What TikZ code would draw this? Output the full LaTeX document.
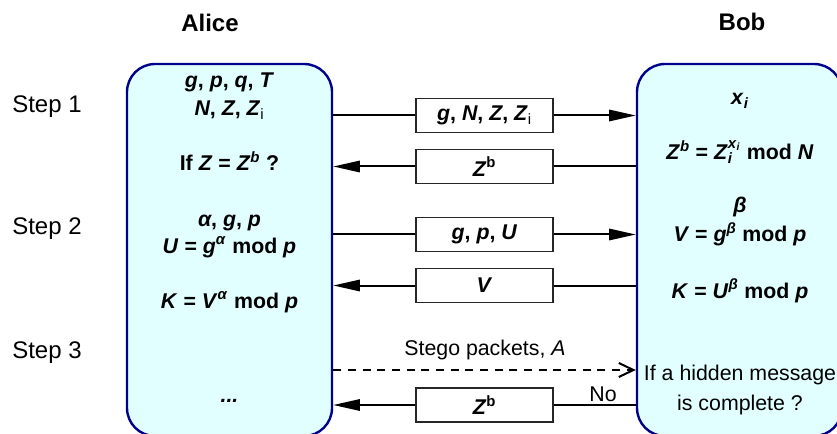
\documentclass[tikz,border=0pt]{standalone}
\usepackage{fontspec}
\setmainfont{Liberation Sans}
\usepackage{tikz}
\usetikzlibrary{arrows.meta,positioning,calc}
\definecolor{partyfill}{HTML}{E2FFFF}
\definecolor{partyline}{HTML}{00008C}
\newcommand{\vb}[1]{\textit{#1}}
\begin{document}
\begin{tikzpicture}[x=0.75pt,y=-0.75pt,
  party/.style={draw=partyline,fill=partyfill,line width=1.8pt,rounded corners=21pt,minimum width=153.75pt,minimum height=279pt,inner sep=0pt},
  msg/.style={draw=black!85,fill=white,line width=1.3pt,minimum width=102.75pt,minimum height=25.5pt,inner sep=0pt,font=\fontsize{16}{19}\selectfont\bfseries},
  val/.style={anchor=base,inner sep=0pt,font=\fontsize{16}{19}\selectfont\bfseries},
  who/.style={anchor=base,inner sep=0pt,font=\fontsize{18}{21}\selectfont\bfseries},
  stage/.style={anchor=base west,inner sep=0pt,font=\fontsize{18}{21}\selectfont},
  note/.style={anchor=base,inner sep=0pt,font=\fontsize{16}{19}\selectfont},
  wire/.style={line width=1.5pt},
  tx/.style={wire,-{Triangle[length=20pt,width=8.5pt]}},
  hint/.style={wire,dash pattern=on 6pt off 5pt,-{Straight Barb[length=11pt,width=10.5pt]}}]
  \clip (0,0) rectangle (837,434);
  \node[party] (alice) at (229.5,250) {};
  \node[party] (bob) at (739.5,250) {};
  \node[who] (nameA) at (210,32) {Alice};
  \node[who] (nameB) at (742,31) {Bob};
  \foreach \n/\y in {1/113,2/235,3/358} {\node[stage] (step\n) at (12,\y) {Step \n};}
  % Alice side
  \node[val] (a1) at (229.5,88) {\vb{g}, \vb{p}, \vb{q}, \vb{T}};
  \node[val] (a2) at (229.5,116) {\vb{N}, \vb{Z}, \vb{Z}\textsubscript{\mdseries i}};
  \node[val] (a3) at (229.5,171) {If \vb{Z} = \vb{Z}\textsuperscript{\vb{b}} ?};
  \node[val] (a4) at (229.5,227) {\vb{α}, \vb{g}, \vb{p}};
  \node[val] (a5) at (229.5,253) {\vb{U} = \vb{g}\textsuperscript{\vb{α}} mod \vb{p}};
  \node[val] (a6) at (229.5,308) {\vb{K} = \vb{V}\textsuperscript{\vb{α}} mod \vb{p}};
  \node[val] (a7) at (229.5,402) {\vb{...}};
  % Bob side
  \node[val] (b1) at (740,105) {\vb{x}\textsubscript{\vb{i}}};
  \node[val] (b2) at (740,160) {\vb{Z}\textsuperscript{\vb{b}} = \vb{Z}\rlap{\textsubscript{\vb{i}}}\raisebox{2.5pt}{\textsuperscript{\vb{x}\textsubscript{\vb{i}}}} mod \vb{N}};
  \node[val] (b3) at (740,213) {\vb{β}};
  \node[val] (b4) at (740,242) {\vb{V} = \vb{g}\textsuperscript{\vb{β}} mod \vb{p}};
  \node[val] (b5) at (740,298) {\vb{K} = \vb{U}\textsuperscript{\vb{β}} mod \vb{p}};
  \node[note] (b6) at (740,380) {If a hidden message};
  \node[note] (b7) at (740,410) {is complete ?};
  % messages
  \foreach \n/\y/\t in {m1/115.5/{\vb{g}, \vb{N}, \vb{Z}, \vb{Z}\textsubscript{\mdseries i}},
      m2/166.5/{\vb{Z}\textsuperscript{b}}, m3/234.5/{\vb{g}, \vb{p}, \vb{U}},
      m4/285.5/{\vb{V}}, m6/405/{\vb{Z}\textsuperscript{b}}}
    {\node[msg] (\n) at (484.5,\y) {\t};}
  \foreach \n in {m1,m3} {
    \draw[wire] (\n.west -| alice.east) -- (\n.west);
    \draw[tx] (\n.east) -- (\n.east -| bob.west);}
  \foreach \n in {m2,m4,m6} \draw[tx] (\n.west) -- (\n.west -| alice.east);
  \draw[wire] (m2.east -| bob.west) -- (m2.east);
  \draw[wire] (m4.east -| bob.west) -- (m4.east);
  \draw[wire] (m6.east -| bob.west) -- node[pos=0.4,above,inner sep=2pt,font=\fontsize{16}{19}\selectfont] (no) {No} (m6.east);
  \node[note] (stego) at (485,355) {Stego packets, \textit{A}};
  \coordinate (lane) at (0,370);
  \draw[hint] (alice.east |- lane) -- (bob.west |- lane);
\end{tikzpicture}
\end{document}
